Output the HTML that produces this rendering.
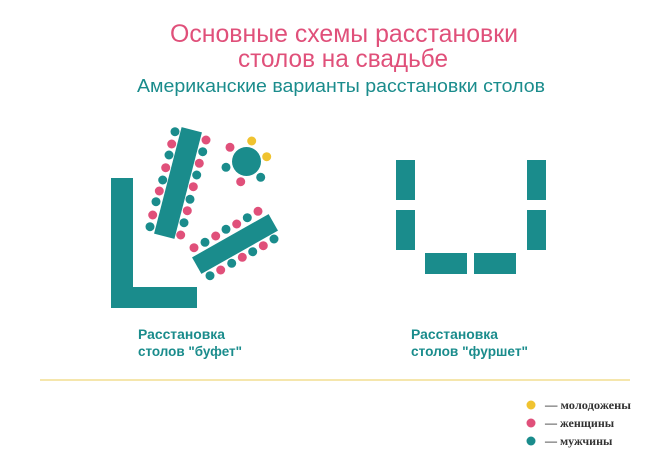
<!DOCTYPE html>
<html><head><meta charset="utf-8"><style>html,body{margin:0;padding:0;background:#fff}svg{display:block}</style></head>
<body>
<svg width="671" height="474" viewBox="0 0 671 474" xmlns="http://www.w3.org/2000/svg" font-family="Liberation Sans, sans-serif">
<rect width="671" height="474" fill="#fff"/>
<text x="344" y="42" font-size="25" fill="#e0507a" text-anchor="middle" textLength="348" lengthAdjust="spacingAndGlyphs">Основные схемы расстановки</text>
<text x="343" y="67" font-size="25" fill="#e0507a" text-anchor="middle" textLength="210" lengthAdjust="spacingAndGlyphs">столов на свадьбе</text>
<text x="341" y="92" font-size="18" fill="#1a8c8c" text-anchor="middle" textLength="408" lengthAdjust="spacingAndGlyphs">Американские варианты расстановки столов</text>
<g fill="#1a8c8c">
<rect x="111" y="178" width="22" height="130"/>
<rect x="111" y="287" width="86" height="21"/>
<rect x="-10.5" y="-55" width="21" height="110" transform="translate(178,183) rotate(14.5)"/>
<rect x="-44" y="-9.5" width="88" height="19" transform="translate(235,244) rotate(-29.5)"/>
<circle cx="246.5" cy="161.5" r="14.5"/>
<rect x="396" y="160" width="19" height="40"/><rect x="396" y="210" width="19" height="40"/>
<rect x="527" y="160" width="19" height="40"/><rect x="527" y="210" width="19" height="40"/>
<rect x="425" y="253" width="42" height="21"/><rect x="474" y="253" width="42" height="21"/>
</g>
<g fill="#1a8c8c">
<circle cx="175" cy="131.7" r="4.5"/><circle cx="169" cy="155" r="4.5"/><circle cx="162.7" cy="180" r="4.5"/><circle cx="156" cy="201.7" r="4.5"/><circle cx="150" cy="226.7" r="4.5"/>
<circle cx="202.7" cy="151.7" r="4.5"/><circle cx="196.7" cy="175" r="4.5"/><circle cx="190" cy="199.3" r="4.5"/><circle cx="184" cy="222.7" r="4.5"/>
<circle cx="226" cy="167.3" r="4.5"/><circle cx="260.7" cy="177.3" r="4.5"/>
<circle cx="205" cy="242.3" r="4.5"/><circle cx="226" cy="229.3" r="4.5"/><circle cx="247.3" cy="217.7" r="4.5"/>
<circle cx="210" cy="275.7" r="4.5"/><circle cx="231.7" cy="263.3" r="4.5"/><circle cx="252.7" cy="251.7" r="4.5"/><circle cx="274" cy="239" r="4.5"/>
<circle cx="531" cy="441" r="4.5"/>
</g>
<g fill="#e0507a">
<circle cx="171.7" cy="144" r="4.5"/><circle cx="165.7" cy="167.7" r="4.5"/><circle cx="159.3" cy="191" r="4.5"/><circle cx="152.7" cy="215" r="4.5"/>
<circle cx="206" cy="140" r="4.5"/><circle cx="199.3" cy="163.3" r="4.5"/><circle cx="193.3" cy="186.7" r="4.5"/><circle cx="187.3" cy="210.7" r="4.5"/><circle cx="180.7" cy="235" r="4.5"/>
<circle cx="230" cy="147.3" r="4.5"/><circle cx="240.7" cy="181.7" r="4.5"/>
<circle cx="194" cy="247.7" r="4.5"/><circle cx="215.7" cy="236" r="4.5"/><circle cx="236.7" cy="224" r="4.5"/><circle cx="258" cy="211.3" r="4.5"/>
<circle cx="220.7" cy="270" r="4.5"/><circle cx="242.3" cy="257.3" r="4.5"/><circle cx="263.3" cy="245.7" r="4.5"/>
<circle cx="531" cy="423" r="4.5"/>
</g>
<g fill="#f0c330">
<circle cx="251.7" cy="141" r="4.5"/><circle cx="266.7" cy="156.7" r="4.5"/>
<circle cx="531" cy="405" r="4.5"/>
</g>
<g fill="#1a8c8c" font-size="13.5" font-weight="bold">
<text x="138" y="339" textLength="87" lengthAdjust="spacingAndGlyphs">Расстановка</text>
<text x="138" y="356" textLength="104" lengthAdjust="spacingAndGlyphs">столов "буфет"</text>
<text x="411" y="339" textLength="87" lengthAdjust="spacingAndGlyphs">Расстановка</text>
<text x="411" y="356" textLength="117" lengthAdjust="spacingAndGlyphs">столов "фуршет"</text>
</g>
<line x1="40" y1="380" x2="630" y2="380" stroke="#efd77a" stroke-width="1.2"/>
<g fill="#333" font-size="12" font-family="Liberation Serif, serif" font-weight="bold">
<text x="545" y="409" textLength="86" lengthAdjust="spacingAndGlyphs">— молодожены</text>
<text x="545" y="427">— женщины</text>
<text x="545" y="445">— мужчины</text>
</g>
</svg>
</body></html>
